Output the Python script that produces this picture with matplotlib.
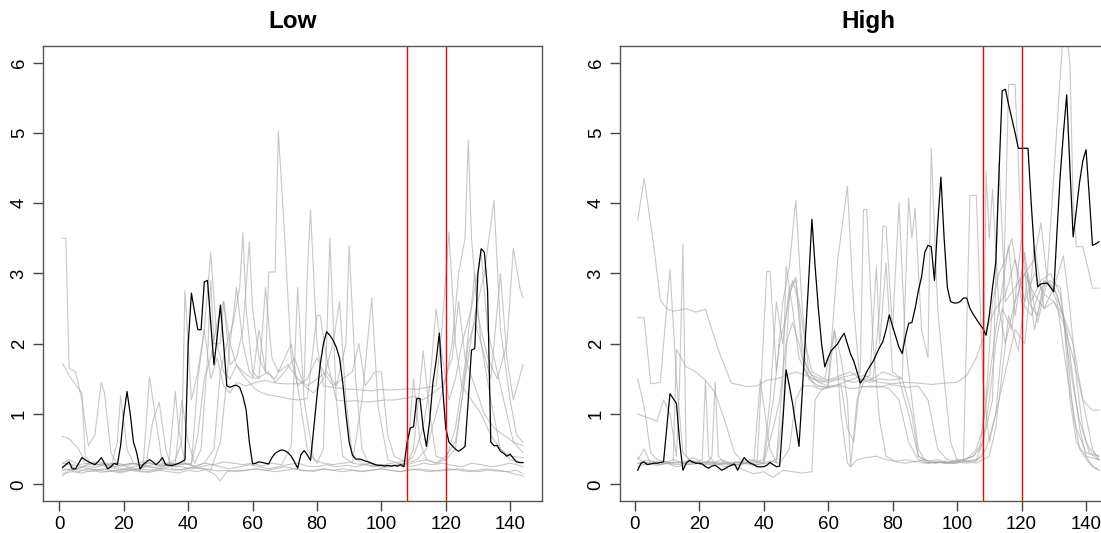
import matplotlib
matplotlib.use("Agg")
import matplotlib.pyplot as plt

plt.rcParams['font.family'] = ['Liberation Sans', 'DejaVu Sans']

# highlighted series, one value per time step 1..144
low_black = [0.24, 0.28, 0.32, 0.22, 0.22, 0.3, 0.38, 0.35, 0.32, 0.3,
             0.28, 0.32, 0.38, 0.3, 0.22, 0.25, 0.3, 0.28, 0.55, 1.0,
             1.32, 1.0, 0.6, 0.45, 0.22, 0.28, 0.32, 0.35, 0.32, 0.28,
             0.32, 0.38, 0.28, 0.27, 0.27, 0.28, 0.3, 0.32, 0.35, 2.0,
             2.72, 2.45, 2.2, 2.2, 2.88, 2.9, 2.3, 1.7, 2.1, 2.55,
             2.0, 1.4, 1.38, 1.4, 1.41, 1.38, 1.25, 1.06, 0.6, 0.29,
             0.3, 0.32, 0.31, 0.3, 0.29, 0.38, 0.44, 0.47, 0.49, 0.48,
             0.45, 0.4, 0.32, 0.23, 0.42, 0.48, 0.42, 0.34, 0.8, 1.25,
             1.7, 2.0, 2.17, 2.12, 2.05, 1.95, 1.8, 1.45, 1.0, 0.6,
             0.42, 0.36, 0.36, 0.35, 0.33, 0.32, 0.3, 0.28, 0.27, 0.27,
             0.26, 0.27, 0.26, 0.27, 0.26, 0.28, 0.25, 0.6, 0.8, 0.82,
             1.22, 1.22, 0.8, 0.54, 0.9, 1.44, 1.75, 2.15, 1.4, 0.8,
             0.6, 0.55, 0.5, 0.47, 0.5, 0.54, 1.2, 1.91, 1.93, 3.0,
             3.35, 3.3, 2.75, 0.6, 0.55, 0.55, 0.47, 0.44, 0.4, 0.43,
             0.37, 0.32, 0.31, 0.31]

high_black = [0.2, 0.3, 0.32, 0.28, 0.29, 0.3, 0.3, 0.31, 0.32, 0.8,
              1.29, 1.22, 1.15, 0.6, 0.2, 0.3, 0.34, 0.32, 0.3, 0.3,
              0.29, 0.25, 0.23, 0.26, 0.27, 0.24, 0.2, 0.22, 0.25, 0.27,
              0.29, 0.2, 0.3, 0.38, 0.33, 0.3, 0.28, 0.25, 0.25, 0.25,
              0.27, 0.31, 0.28, 0.25, 0.26, 0.9, 1.63, 1.4, 1.15, 0.85,
              0.54, 1.3, 2.1, 2.9, 3.77, 3.1, 2.5, 2.0, 1.67, 1.8,
              1.9, 1.95, 2.0, 2.08, 2.15, 2.0, 1.85, 1.75, 1.6, 1.44,
              1.5, 1.6, 1.68, 1.75, 1.85, 1.95, 2.03, 2.2, 2.41, 2.25,
              2.1, 1.95, 1.86, 2.1, 2.29, 2.3, 2.5, 2.75, 2.95, 3.3,
              3.4, 3.38, 2.9, 3.7, 4.37, 3.5, 2.8, 2.6, 2.58, 2.58,
              2.6, 2.65, 2.65, 2.5, 2.42, 2.35, 2.28, 2.22, 2.12, 2.4,
              2.8, 3.15, 4.4, 5.6, 5.62, 5.4, 5.2, 5.0, 4.78, 4.78,
              4.78, 4.78, 4.0, 3.3, 2.81, 2.85, 2.86, 2.86, 2.8, 2.74,
              3.6, 4.4, 5.0, 5.54, 4.5, 3.52, 3.9, 4.3, 4.6, 4.76,
              4.1, 3.4, 3.42, 3.45]

# background series, (time, value) pairs read at their turning points
low_g1 = [(1, 3.5), (2, 3.5), (3, 1.65), (5, 1.6), (7, 1.2), (9, 0.55), (11, 0.7), (13, 1.45), (14, 1.3),
          (16, 0.45), (18, 0.28), (21, 0.25), (24, 0.22), (27, 0.25), (30, 0.24), (33, 0.27), (36, 0.25),
          (39, 0.3), (42, 0.26), (45, 0.3), (48, 0.28), (51, 0.32), (54, 0.3), (57, 0.28), (60, 0.3),
          (63, 0.26), (66, 0.3), (69, 0.28), (72, 0.55), (74, 2.8), (76, 1.2), (79, 0.35), (82, 0.3),
          (85, 0.28), (88, 0.3), (91, 0.32), (94, 1.2), (97, 2.65), (99, 1.1), (102, 0.35), (105, 0.3),
          (108, 0.28), (111, 0.32), (114, 0.35), (117, 0.3), (120, 0.4), (123, 0.6), (126, 1.5), (129, 2.4),
          (132, 3.0), (135, 4.04), (137, 2.2), (140, 1.2), (142, 0.7), (144, 0.6)]
low_g2 = [(1, 1.72), (3, 1.55), (5, 1.42), (7, 1.3), (8, 0.4), (10, 0.3), (13, 0.28), (16, 0.3), (19, 0.26),
          (22, 0.3), (25, 0.28), (28, 0.3), (31, 0.27), (34, 0.3), (36, 0.35), (38, 0.6), (39, 2.76),
          (41, 1.2), (43, 1.6), (45, 2.2), (47, 1.5), (49, 1.8), (51, 1.4), (53, 1.3), (55, 1.45), (58, 1.4),
          (61, 1.45), (64, 1.48), (67, 1.44), (70, 1.43), (73, 1.43), (76, 1.45), (77, 3.0), (78, 3.9),
          (80, 2.0), (82, 1.4), (85, 1.38), (88, 1.36), (91, 1.35), (94, 1.34), (97, 1.33), (100, 1.35),
          (103, 1.34), (106, 1.35), (108, 1.36), (111, 1.35), (114, 1.38), (117, 1.4), (119, 2.3),
          (121, 3.59), (123, 2.0), (125, 1.4), (128, 1.2), (131, 1.0), (134, 0.7), (137, 0.5), (140, 0.4),
          (144, 0.38)]
low_g3 = [(1, 0.68), (3, 0.65), (6, 0.5), (8, 0.3), (11, 0.27), (14, 0.3), (17, 0.25), (20, 0.28), (23, 0.3),
          (26, 0.27), (28, 1.53), (30, 0.9), (32, 0.3), (35, 0.28), (38, 0.3), (41, 0.28), (43, 1.5),
          (45, 2.2), (47, 3.3), (49, 2.0), (51, 1.6), (53, 1.5), (55, 1.7), (57, 1.55), (59, 1.45), (61, 1.35),
          (63, 1.3), (65, 1.27), (68, 1.25), (71, 1.22), (74, 1.2), (77, 1.22), (80, 2.4), (81, 2.4),
          (83, 1.8), (86, 1.2), (89, 1.18), (92, 1.19), (95, 1.17), (98, 1.18), (101, 1.2), (104, 1.2),
          (107, 1.22), (110, 1.25), (113, 1.2), (116, 1.3), (119, 1.4), (122, 1.8), (124, 2.6), (126, 1.8),
          (129, 1.4), (132, 1.0), (135, 0.8), (138, 0.7), (141, 0.6), (144, 0.55)]
low_g4 = [(1, 0.3), (4, 0.28), (7, 0.25), (10, 0.3), (13, 0.27), (16, 0.25), (18, 0.6), (19, 1.26), (21, 0.5),
          (23, 0.3), (26, 0.25), (29, 0.28), (32, 0.26), (35, 0.3), (38, 0.28), (41, 0.3), (43, 0.7),
          (45, 1.5), (47, 1.8), (49, 2.3), (51, 2.6), (53, 2.0), (55, 1.7), (57, 1.6), (60, 1.5), (62, 2.2),
          (64, 1.6), (67, 1.5), (70, 1.8), (72, 2.0), (74, 1.4), (77, 0.5), (80, 0.3), (82, 0.5), (84, 3.5),
          (86, 1.2), (88, 0.4), (91, 0.3), (94, 0.28), (97, 0.3), (100, 0.27), (103, 0.3), (106, 0.32),
          (108, 0.35), (110, 1.5), (112, 0.6), (114, 0.35), (117, 0.3), (120, 0.35), (123, 0.8), (126, 1.7),
          (129, 3.0), (131, 2.0), (134, 1.2), (137, 0.5), (140, 0.35), (144, 0.3)]
low_g5 = [(1, 0.22), (4, 0.2), (7, 0.24), (10, 0.22), (13, 0.2), (16, 0.24), (19, 0.2), (22, 0.22), (25, 0.2),
          (27, 0.3), (29, 0.9), (31, 1.17), (33, 0.5), (35, 0.22), (38, 0.2), (41, 0.24), (44, 0.22),
          (47, 0.2), (50, 0.6), (52, 1.5), (53, 2.0), (55, 2.8), (57, 2.0), (59, 1.6), (61, 1.5), (63, 1.55),
          (65, 1.6), (67, 1.45), (70, 1.6), (73, 1.8), (76, 1.4), (79, 1.3), (82, 1.5), (85, 2.0), (87, 2.6),
          (89, 1.2), (91, 0.4), (94, 0.3), (97, 0.25), (100, 0.28), (103, 0.25), (106, 0.27), (108, 0.3),
          (110, 0.5), (113, 1.9), (115, 1.0), (117, 0.4), (120, 0.35), (123, 0.5), (125, 1.2), (127, 2.0),
          (129, 2.3), (131, 2.0), (134, 1.5), (137, 3.0), (139, 1.8), (141, 1.2), (144, 1.7)]
low_g6 = [(1, 0.2), (4, 0.22), (7, 0.2), (10, 0.18), (13, 0.22), (16, 0.2), (19, 0.18), (22, 0.2), (25, 0.22),
          (28, 0.2), (31, 0.22), (34, 0.28), (36, 1.32), (37, 0.8), (39, 0.3), (42, 0.25), (45, 0.3),
          (48, 0.5), (50, 1.6), (52, 2.0), (54, 2.3), (56, 2.8), (57, 3.58), (58, 2.5), (60, 1.6), (62, 1.5),
          (64, 2.8), (66, 1.8), (68, 1.6), (71, 1.7), (74, 1.5), (77, 1.4), (80, 1.5), (83, 1.6), (86, 1.4),
          (89, 2.0), (90, 3.4), (92, 1.5), (94, 0.5), (96, 0.3), (99, 0.27), (102, 0.25), (105, 0.28),
          (108, 0.3), (111, 0.35), (114, 0.5), (117, 1.0), (120, 1.5), (122, 2.0), (124, 3.0), (126, 3.5),
          (127, 4.9), (128, 3.5), (130, 2.4), (133, 1.8), (136, 1.5), (139, 2.0), (141, 3.36), (143, 2.8),
          (144, 2.65)]
low_g7 = [(1, 0.3), (3, 0.35), (6, 0.28), (9, 0.3), (12, 0.32), (15, 0.28), (18, 0.3), (21, 0.27), (24, 0.3),
          (27, 0.32), (30, 0.28), (33, 0.3), (36, 0.3), (38, 1.2), (40, 0.6), (42, 0.3), (44, 0.5), (46, 1.8),
          (47, 2.9), (48, 2.0), (50, 2.0), (51, 2.6), (53, 1.7), (55, 1.8), (57, 2.2), (59, 3.45), (60, 2.5),
          (62, 1.8), (64, 1.6), (65, 3.02), (67, 3.02), (68, 5.02), (70, 3.5), (72, 1.8), (74, 1.4),
          (77, 1.5), (80, 1.8), (82, 1.6), (85, 1.4), (88, 1.5), (91, 1.6), (93, 2.0), (95, 1.4), (98, 1.6),
          (100, 1.6), (102, 0.7), (104, 0.4), (106, 0.35), (108, 0.32), (110, 0.4), (113, 0.8), (115, 1.4),
          (117, 2.5), (119, 1.8), (121, 1.2), (123, 1.5), (125, 2.0), (128, 2.5), (131, 3.3), (133, 2.2),
          (136, 1.6), (139, 1.0), (141, 0.6), (144, 0.45)]
low_g8 = [(1, 0.15), (4, 0.18), (7, 0.16), (10, 0.2), (13, 0.17), (16, 0.19), (19, 0.16), (22, 0.2), (25, 0.18),
          (28, 0.17), (31, 0.2), (34, 0.18), (37, 0.16), (40, 0.2), (43, 0.18), (46, 0.22), (49, 0.19),
          (52, 0.2), (55, 0.18), (58, 0.2), (61, 0.22), (64, 0.2), (67, 0.18), (70, 0.2), (73, 0.22),
          (76, 0.19), (79, 0.2), (82, 0.22), (85, 0.2), (88, 0.18), (91, 0.2), (94, 0.19), (97, 0.2),
          (100, 0.22), (103, 0.2), (106, 0.18), (109, 0.2), (112, 0.22), (115, 0.2), (118, 0.19), (121, 0.2),
          (124, 0.22), (127, 0.2), (130, 0.18), (133, 0.2), (136, 0.19), (139, 0.18), (142, 0.2), (144, 0.15)]
low_g9 = [(1, 0.25), (3, 0.3), (5, 0.22), (8, 0.26), (11, 0.24), (14, 0.28), (17, 0.25), (20, 0.22), (23, 0.25),
          (26, 0.28), (29, 0.24), (32, 0.22), (35, 0.26), (38, 0.25), (41, 0.22), (44, 0.25), (47, 0.28),
          (50, 0.25), (53, 0.22), (56, 0.25), (59, 0.28), (62, 0.25), (65, 0.22), (68, 0.25), (71, 0.28),
          (74, 0.3), (77, 0.26), (80, 0.25), (83, 0.28), (86, 0.25), (89, 0.27), (92, 0.25), (95, 0.28),
          (98, 0.26), (101, 0.24), (104, 0.27), (107, 0.25), (110, 0.26), (113, 0.3), (116, 0.28), (119, 0.3),
          (122, 0.27), (125, 0.25), (128, 0.3), (131, 0.28), (134, 0.25), (137, 0.27), (140, 0.3), (142, 0.28),
          (144, 0.25)]
low_g10 = [(1, 0.12), (3, 0.2), (6, 0.18), (9, 0.22), (12, 0.2), (15, 0.18), (18, 0.2), (21, 0.22), (24, 0.2),
           (27, 0.18), (30, 0.2), (33, 0.22), (36, 0.2), (39, 0.22), (42, 0.25), (45, 0.22), (48, 0.15),
           (50, 0.05), (52, 0.18), (55, 0.2), (58, 0.2), (61, 0.22), (64, 0.2), (67, 0.22), (70, 0.25),
           (73, 0.22), (76, 0.2), (79, 0.18), (82, 0.22), (85, 0.2), (88, 0.22), (91, 0.2), (94, 0.18),
           (97, 0.2), (100, 0.22), (103, 0.2), (106, 0.18), (109, 0.22), (112, 0.2), (115, 0.18), (118, 0.2),
           (121, 0.22), (124, 0.2), (127, 0.18), (130, 0.2), (133, 0.22), (136, 0.2), (139, 0.18), (141, 0.15),
           (144, 0.12)]

high_g1 = [(1, 3.76), (3, 4.35), (6, 3.38), (8, 2.62), (10, 2.5), (12, 2.46), (16, 2.5), (19, 2.45), (22, 2.49),
           (26, 1.91), (30, 1.44), (35, 1.39), (38, 1.4), (41, 1.48), (44, 1.5), (47, 1.55), (50, 1.6),
           (53, 1.55), (56, 1.5), (60, 1.45), (64, 1.5), (68, 1.45), (72, 1.5), (76, 1.45), (80, 1.43),
           (84, 1.45), (88, 1.44), (92, 1.42), (96, 1.44), (100, 1.45), (103, 1.55), (106, 1.8), (109, 2.2),
           (112, 2.5), (115, 2.7), (118, 3.2), (121, 2.6), (124, 3.0), (127, 2.7), (130, 2.6), (133, 2.3),
           (136, 1.8), (139, 1.2), (142, 1.05), (144, 1.06)]
high_g2 = [(1, 2.37), (3, 2.37), (5, 1.43), (8, 1.45), (11, 3.06), (13, 1.5), (15, 0.45), (17, 0.35), (20, 0.3),
           (23, 0.32), (26, 0.28), (29, 0.3), (32, 0.27), (35, 0.3), (38, 0.28), (41, 3.03), (42, 3.03),
           (44, 1.6), (46, 2.6), (48, 3.1), (50, 4.04), (52, 2.5), (54, 1.6), (57, 1.45), (60, 1.4), (63, 3.19),
           (66, 4.24), (68, 2.5), (70, 1.4), (73, 1.38), (76, 1.4), (79, 1.36), (82, 1.2), (85, 0.6), (88, 0.35),
           (91, 0.3), (94, 0.32), (97, 0.3), (100, 0.32), (103, 0.35), (106, 0.5), (108, 0.8), (110, 1.5),
           (112, 2.2), (116, 3.4), (118, 2.4), (121, 3.3), (124, 2.2), (127, 2.9), (130, 2.8), (133, 2.4),
           (135, 1.2), (137, 0.6), (140, 0.4), (144, 0.35)]
high_g3 = [(1, 1.5), (3, 1.1), (5, 0.45), (7, 0.35), (10, 0.32), (12, 0.3), (13, 1.92), (16, 1.67), (19, 1.6),
           (22, 1.48), (25, 1.3), (28, 0.9), (31, 0.45), (34, 0.3), (37, 0.3), (40, 0.35), (42, 1.2), (44, 2.6),
           (46, 2.0), (48, 2.8), (50, 2.9), (52, 1.8), (55, 1.55), (58, 1.5), (61, 1.48), (64, 1.52), (67, 1.55),
           (70, 1.6), (71, 3.91), (72, 3.91), (74, 2.0), (76, 0.9), (78, 0.4), (81, 0.32), (84, 0.3), (87, 0.33),
           (90, 0.3), (93, 0.32), (96, 0.3), (99, 0.33), (102, 0.35), (105, 0.4), (108, 0.6), (111, 1.2),
           (113, 4.59), (115, 2.6), (118, 2.8), (121, 3.0), (124, 3.2), (126, 3.72), (128, 2.9), (131, 2.6),
           (134, 1.6), (137, 0.8), (140, 0.45), (144, 0.4)]
high_g4 = [(1, 1.0), (4, 0.95), (7, 0.9), (9, 1.2), (11, 1.0), (13, 0.4), (14, 1.5), (15, 3.41), (16, 0.4),
           (18, 0.3), (21, 0.35), (22, 1.48), (23, 0.4), (25, 0.3), (28, 0.32), (31, 0.28), (34, 0.3), (37, 0.32),
           (39, 1.48), (40, 1.15), (42, 0.5), (44, 0.3), (46, 1.0), (48, 2.7), (50, 2.95), (52, 2.0), (54, 1.5),
           (57, 1.4), (60, 1.38), (62, 2.2), (64, 1.0), (66, 0.3), (67, 0.25), (69, 0.35), (72, 0.38), (75, 0.4),
           (78, 0.35), (81, 0.33), (84, 0.35), (87, 0.32), (90, 0.35), (93, 0.3), (96, 0.32), (99, 0.3),
           (102, 0.35), (105, 0.4), (107, 0.5), (109, 1.2), (111, 2.6), (113, 3.0), (115, 3.2), (117, 3.5),
           (120, 2.6), (123, 2.4), (126, 2.8), (129, 2.9), (132, 2.8), (134, 2.0), (136, 1.0), (138, 0.5),
           (141, 0.3), (144, 0.2)]
high_g5 = [(1, 0.3), (4, 0.35), (7, 0.3), (10, 0.32), (13, 0.3), (16, 0.33), (19, 0.3), (22, 0.28), (24, 0.4),
           (25, 1.46), (26, 0.4), (28, 0.3), (31, 0.32), (34, 0.3), (37, 0.35), (40, 0.3), (43, 0.8), (45, 1.2),
           (47, 2.0), (49, 2.3), (51, 2.0), (53, 1.6), (56, 1.4), (59, 1.38), (62, 1.4), (65, 1.45), (68, 1.5),
           (71, 1.55), (74, 1.5), (76, 2.5), (77, 3.67), (78, 3.67), (80, 2.2), (82, 4.0), (84, 2.0), (86, 1.2),
           (88, 0.5), (90, 0.35), (93, 0.3), (96, 0.33), (99, 0.3), (102, 0.35), (104, 4.11), (106, 4.11),
           (108, 1.5), (110, 0.6), (112, 1.0), (114, 2.0), (116, 5.69), (118, 5.69), (120, 3.5), (122, 2.6),
           (125, 2.4), (128, 3.0), (130, 4.4), (132, 5.8), (133, 6.5), (134, 6.4), (135, 6.0), (136, 4.0),
           (137, 3.38), (139, 3.38), (141, 3.0), (142, 2.79), (144, 2.79)]
high_g6 = [(1, 0.35), (3, 0.5), (5, 0.3), (8, 0.28), (11, 0.3), (14, 0.32), (17, 0.28), (20, 0.3), (23, 0.33),
           (26, 0.3), (29, 0.28), (32, 0.32), (35, 0.3), (38, 0.28), (41, 0.3), (44, 0.35), (46, 1.5), (47, 3.1),
           (49, 2.5), (51, 1.8), (53, 1.6), (55, 1.5), (58, 1.45), (61, 1.5), (64, 1.55), (67, 1.6), (70, 1.5),
           (73, 1.55), (75, 3.1), (76, 2.0), (78, 3.15), (80, 1.6), (83, 1.5), (85, 4.07), (86, 3.5), (87, 3.93),
           (89, 2.2), (91, 1.8), (92, 4.78), (94, 2.5), (96, 1.5), (98, 0.6), (100, 0.35), (103, 0.33),
           (106, 0.35), (108, 0.4), (109, 4.45), (110, 3.5), (111, 4.2), (113, 2.5), (115, 2.0), (118, 2.6),
           (121, 3.0), (124, 2.7), (127, 2.5), (130, 2.8), (133, 3.25), (135, 2.5), (137, 1.5), (139, 0.8),
           (141, 0.45), (144, 0.35)]
high_g7 = [(1, 0.38), (3, 0.3), (6, 0.33), (9, 0.3), (12, 0.35), (15, 0.3), (18, 0.38), (21, 0.32), (24, 0.3),
           (27, 0.35), (30, 0.3), (33, 0.32), (36, 0.35), (39, 0.3), (42, 0.33), (45, 0.3), (48, 0.5), (50, 1.2),
           (52, 1.4), (55, 1.4), (58, 1.35), (61, 1.38), (64, 1.4), (67, 1.36), (70, 1.38), (73, 1.4), (76, 1.38),
           (79, 1.42), (82, 1.4), (85, 1.38), (88, 1.4), (91, 1.2), (94, 0.5), (97, 0.35), (100, 0.32),
           (103, 0.3), (106, 0.33), (109, 0.5), (112, 1.0), (115, 1.6), (118, 2.2), (121, 2.0), (124, 3.4),
           (127, 2.5), (130, 2.6), (133, 2.4), (136, 2.0), (139, 1.2), (142, 0.5), (144, 0.35)]
high_g8 = [(1, 0.3), (4, 0.28), (7, 0.32), (10, 0.3), (13, 0.28), (16, 0.3), (19, 0.32), (22, 0.3), (25, 0.28),
           (28, 0.3), (31, 0.27), (34, 0.2), (37, 0.15), (40, 0.18), (43, 0.1), (46, 0.2), (49, 0.18), (52, 0.16),
           (55, 0.18), (56, 1.2), (58, 1.35), (61, 1.4), (64, 1.42), (66, 0.8), (68, 0.6), (70, 1.5), (73, 1.45),
           (76, 1.5), (79, 1.48), (82, 1.5), (85, 1.0), (88, 0.4), (91, 0.3), (94, 0.32), (97, 0.3), (100, 0.3),
           (103, 0.33), (106, 0.3), (108, 0.35), (110, 0.4), (112, 0.8), (114, 1.6), (116, 2.4), (119, 1.9),
           (122, 3.0), (125, 2.3), (128, 2.9), (131, 2.7), (134, 2.2), (136, 1.5), (138, 0.8), (140, 0.4),
           (142, 0.25), (144, 0.2)]
high_g9 = [(1, 0.25), (4, 0.3), (7, 0.27), (10, 0.3), (13, 0.25), (16, 0.28), (19, 0.3), (22, 0.27), (25, 0.3),
           (28, 0.25), (31, 0.28), (34, 0.3), (37, 0.27), (40, 0.3), (43, 1.2), (45, 2.0), (47, 2.4), (49, 2.9),
           (51, 2.6), (53, 2.0), (55, 1.6), (57, 1.55), (59, 1.5), (62, 2.18), (64, 1.8), (66, 1.2), (67, 0.25),
           (69, 1.2), (71, 1.45), (74, 1.5), (77, 1.6), (80, 1.55), (83, 1.5), (86, 1.0), (88, 0.4), (91, 0.33),
           (94, 0.35), (97, 0.3), (100, 0.35), (103, 0.32), (106, 0.35), (108, 0.6), (110, 1.2), (112, 2.0),
           (114, 2.5), (117, 2.2), (120, 3.5), (123, 2.6), (126, 2.9), (129, 3.0), (132, 2.7), (134, 2.0),
           (136, 1.4), (138, 0.9), (140, 0.6), (142, 0.45), (144, 0.4)]

low_grey = [low_g1, low_g2, low_g3, low_g4, low_g5, low_g6, low_g7, low_g8, low_g9, low_g10]
high_grey = [high_g1, high_g2, high_g3, high_g4, high_g5, high_g6, high_g7, high_g8, high_g9]

steps = list(range(1, 145))
markers = [108, 120]

fig = plt.figure(figsize=(11.01, 5.33), dpi=100)
ax_low = fig.add_axes([43 / 1101, 32.3 / 533, 499 / 1101, 454.7 / 533])
ax_high = fig.add_axes([620 / 1101, 32.3 / 533, 497 / 1101, 454.7 / 533])


def draw_panel(ax, grey, black, title, xlim):
    for s in grey:
        xs, ys = zip(*s)
        ax.plot(xs, ys, color='#a6a6a6', alpha=0.62, lw=0.8)
    ax.plot(steps, black, color='black', lw=0.9)
    for m in markers:
        ax.axvline(m, color='#ff0000', lw=1.0)
    ax.set_xlim(*xlim)
    ax.set_ylim(-0.233, 6.235)
    ax.set_xticks(range(0, 141, 20))
    ax.set_yticks(range(0, 7))
    ax.tick_params(length=7, width=1, color='#444444', labelsize=13.4, pad=4)
    ax.tick_params(axis='y', labelrotation=90)
    for lbl in ax.get_yticklabels():
        lbl.set_va('center')
    for sp in ax.spines.values():
        sp.set_color('#555555')
        sp.set_linewidth(1.0)
    ax.set_title(title, fontweight='bold', fontsize=17.5, pad=13)


draw_panel(ax_low, low_grey, low_black, 'Low', (-5.1, 149.9))
draw_panel(ax_high, high_grey, high_black, 'High', (-4.5, 149.6))

fig.savefig('out.png', dpi=100)
